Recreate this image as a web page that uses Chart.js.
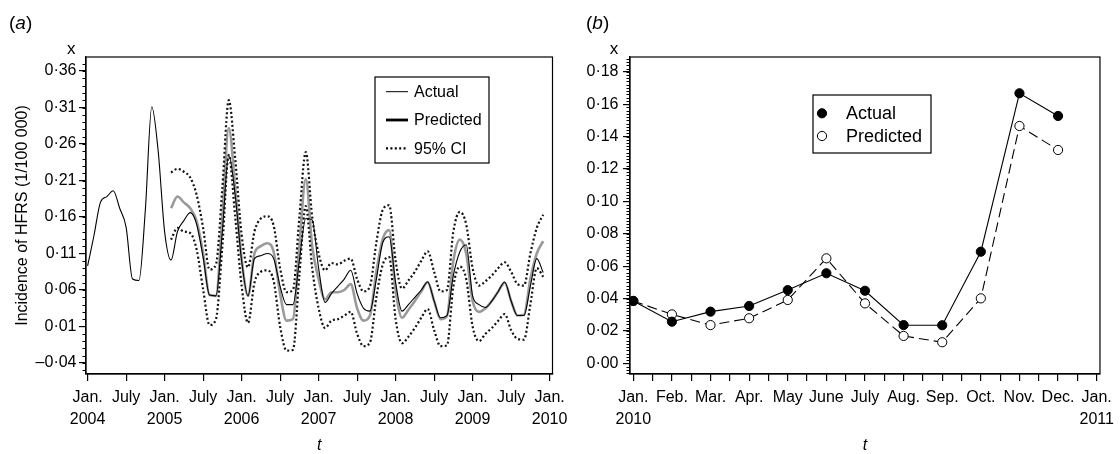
<!DOCTYPE html>
<html><head><meta charset="utf-8">
<script src="https://cdn.jsdelivr.net/npm/chart.js@4.4.1/dist/chart.umd.min.js"></script>
<style>
html,body{margin:0;padding:0;background:#fff;}
body{width:1120px;height:454px;position:relative;overflow:hidden;}
canvas{position:absolute;top:0;}
#ca{left:0;} #cb{left:580px;}
</style></head><body>
<canvas id="ca" width="580" height="454"></canvas>
<canvas id="cb" width="540" height="454"></canvas>
<script>
// ---------- Panel (a): monthly incidence, Jan 2004 (index 0) .. Dec 2009 (index 71)
const actualA = [
  0.093, 0.135, 0.180, 0.188, 0.196, 0.172, 0.146, 0.075, 0.073, 0.170, 0.311, 0.250,
  0.140, 0.101, 0.140, 0.155, 0.166, 0.150, 0.105, 0.053, 0.052, 0.140, 0.245, 0.190,
  0.100, 0.052, 0.103, 0.107, 0.110, 0.103, 0.065, 0.040, 0.040, 0.100, 0.158, 0.156,
  0.090, 0.043, 0.055, 0.065, 0.075, 0.087, 0.055, 0.035, 0.031, 0.075, 0.125, 0.133,
  0.070, 0.031, 0.040, 0.050, 0.060, 0.071, 0.045, 0.022, 0.025, 0.080, 0.112, 0.122,
  0.052, 0.040, 0.036, 0.045, 0.058, 0.071, 0.045, 0.025, 0.025, 0.065, 0.103, 0.084
];
const predStartA = 13; // Feb 2005
const predictedA = [
  0.172, 0.188, 0.180, 0.172, 0.154, 0.110, 0.053, 0.052, 0.160, 0.282, 0.200,
  0.103, 0.052, 0.110, 0.120, 0.124, 0.112, 0.055, 0.018, 0.020, 0.120, 0.212, 0.120,
  0.075, 0.047, 0.057, 0.057, 0.060, 0.068, 0.035, 0.018, 0.025, 0.085, 0.130, 0.142,
  0.060, 0.022, 0.033, 0.045, 0.058, 0.071, 0.045, 0.020, 0.024, 0.100, 0.129, 0.110,
  0.045, 0.030, 0.035, 0.045, 0.058, 0.070, 0.045, 0.025, 0.026, 0.075, 0.110, 0.127
];
const ciUpperA = [
  0.221, 0.226, 0.222, 0.214, 0.190, 0.145, 0.088, 0.095, 0.200, 0.320, 0.240,
  0.136, 0.091, 0.140, 0.158, 0.161, 0.148, 0.090, 0.057, 0.060, 0.160, 0.249, 0.160,
  0.110, 0.087, 0.097, 0.095, 0.100, 0.103, 0.075, 0.058, 0.065, 0.125, 0.170, 0.176,
  0.100, 0.062, 0.073, 0.085, 0.100, 0.113, 0.085, 0.058, 0.060, 0.140, 0.167, 0.150,
  0.090, 0.066, 0.072, 0.080, 0.090, 0.098, 0.085, 0.068, 0.066, 0.110, 0.145, 0.163
];
const ciLowerA = [
  0.129, 0.145, 0.140, 0.138, 0.115, 0.061, 0.012, 0.020, 0.120, 0.245, 0.160,
  0.066, 0.015, 0.070, 0.085, 0.087, 0.072, 0.010, -0.023, -0.022, 0.080, 0.175, 0.090,
  0.035, 0.008, 0.018, 0.020, 0.025, 0.030, 0.000, -0.017, -0.012, 0.050, 0.095, 0.105,
  0.020, -0.013, -0.004, 0.008, 0.022, 0.034, 0.005, -0.017, -0.016, 0.065, 0.092, 0.075,
  0.010, -0.010, 0.000, 0.008, 0.018, 0.027, 0.005, -0.007, -0.008, 0.040, 0.090, 0.078
];
const xTickValsA = [0, 6, 12, 18, 24, 30, 36, 42, 48, 54, 60, 66, 72];
const xTickLabelsA = [['Jan.','2004'],'July',['Jan.','2005'],'July',['Jan.','2006'],'July',
  ['Jan.','2007'],'July',['Jan.','2008'],'July',['Jan.','2009'],'July',['Jan.','2010']];
const yTickValsA = [-0.04, 0.01, 0.06, 0.11, 0.16, 0.21, 0.26, 0.31, 0.36];

// ---------- Panel (b): Jan..Dec 2010
const monthLabelsB = [['Jan.','2010'],'Feb.','Mar.','Apr.','May','June','July','Aug.','Sep.','Oct.','Nov.','Dec.',['Jan.','2011']];
const actualB =    [0.0385, 0.0257, 0.0319, 0.0354, 0.0452, 0.0556, 0.0448, 0.0236, 0.0235, 0.0689, 0.1667, 0.1527];
const predictedB = [0.0385, 0.0302, 0.0236, 0.0278, 0.0391, 0.0648, 0.0370, 0.0169, 0.0130, 0.0401, 0.1465, 0.1317];
const yTickValsB = [0.00, 0.02, 0.04, 0.06, 0.08, 0.10, 0.12, 0.14, 0.16, 0.18];

// ---------- helpers
const FONT = '"Liberation Sans", Arial, Helvetica, sans-serif';
Chart.defaults.font.family = FONT;
Chart.defaults.color = '#000';
const toPts = (arr, start) => arr.map((v, i) => ({x: start + i, y: v}));
const fmt = v => (v < -1e-9 ? '\u2013' : '') + Math.abs(v).toFixed(2).replace('.', '\u00b7');

const decor = {
  id: 'decor',
  afterDraw(chart, args, o) {
    const ctx = chart.ctx, a = chart.chartArea, ys = chart.scales.y;
    ctx.save();
    // frame
    ctx.strokeStyle = '#000'; ctx.lineWidth = 1.2;
    ctx.strokeRect(a.left, a.top, a.right - a.left, a.bottom - a.top);
    // minor y ticks
    ctx.lineWidth = 1;
    ctx.beginPath();
    const k0 = Math.ceil(ys.min / o.minorY - 1e-6), k1 = Math.floor(ys.max / o.minorY + 1e-6);
    for (let k = k0; k <= k1; k++) {
      const py = Math.round(ys.getPixelForValue(k * o.minorY)) + 0.5;
      ctx.moveTo(a.left - o.minorLen, py); ctx.lineTo(a.left, py);
    }
    ctx.stroke();
    // texts
    ctx.fillStyle = '#000'; ctx.textBaseline = 'alphabetic'; ctx.textAlign = 'left';
    (o.texts || []).forEach(t => {
      let x = t.x;
      t.runs.forEach(r => {
        ctx.font = r.f + ' ' + FONT;
        if (t.center) { ctx.textAlign = 'center'; ctx.fillText(r.t, x, t.y); ctx.textAlign = 'left'; }
        else { ctx.fillText(r.t, x, t.y); x += ctx.measureText(r.t).width; }
      });
    });
    // legend
    const L = o.legend;
    if (L) {
      ctx.fillStyle = '#fff'; ctx.fillRect(L.x, L.y, L.w, L.h);
      ctx.strokeStyle = '#000'; ctx.lineWidth = 1.2; ctx.strokeRect(L.x, L.y, L.w, L.h);
      ctx.font = L.font + ' ' + FONT; ctx.textBaseline = 'middle';
      L.rows.forEach(r => {
        ctx.save();
        if (r.kind === 'line') {
          ctx.strokeStyle = r.color; ctx.lineWidth = r.width; ctx.setLineDash(r.dash || []);
          ctx.beginPath(); ctx.moveTo(L.sx0, r.y); ctx.lineTo(L.sx1, r.y); ctx.stroke();
        } else {
          ctx.beginPath(); ctx.arc(L.mx, r.y, r.r, 0, Math.PI * 2);
          ctx.fillStyle = r.fill; ctx.fill();
          ctx.strokeStyle = '#000'; ctx.lineWidth = 1; ctx.stroke();
        }
        ctx.restore();
        ctx.fillStyle = '#000'; ctx.fillText(r.label, L.tx, r.y + 1);
      });
    }
    ctx.restore();
  }
};

// ---------- Chart (a)
new Chart(document.getElementById('ca'), {
  type: 'line',
  data: {
    datasets: [
      {label: '95% CI', data: toPts(ciUpperA, predStartA), borderColor: '#111', borderWidth: 2.2, borderDash: [2, 2.4]},
      {label: '95% CI lower', data: toPts(ciLowerA, predStartA), borderColor: '#111', borderWidth: 2.2, borderDash: [2, 2.4]},
      {label: 'Actual', data: toPts(actualA, 0), borderColor: '#000', borderWidth: 1.1},
      {label: 'Predicted', data: toPts(predictedA, predStartA), borderColor: '#9a9a9a', borderWidth: 2.6}
    ]
  },
  plugins: [decor],
  options: {
    responsive: false, animation: false, devicePixelRatio: 1,
    layout: {padding: {left: 0, right: 27.5, top: 57, bottom: 0}},
    elements: {point: {radius: 0}, line: {cubicInterpolationMode: 'monotone', fill: false}},
    plugins: {
      legend: {display: false}, tooltip: {enabled: false},
      decor: {
        minorY: 0.01, minorLen: 3.5,
        texts: [
          {x: 9, y: 29, runs: [{t: '(', f: '19px'}, {t: 'a', f: 'italic 19px'}, {t: ')', f: '19px'}]},
          {x: 71.3, y: 54, center: true, runs: [{t: 'x', f: '17px'}]}
        ],
        legend: {x: 375, y: 77, w: 114, h: 86, font: '16px', sx0: 386, sx1: 408, tx: 414,
          rows: [
            {label: 'Actual', y: 91.7, kind: 'line', color: '#000', width: 1},
            {label: 'Predicted', y: 120, kind: 'line', color: '#000', width: 2.8},
            {label: '95% CI', y: 148.3, kind: 'line', color: '#000', width: 2.2, dash: [2, 2.4]}
          ]}
      }
    },
    scales: {
      x: {
        type: 'linear', min: -0.25, max: 72.45,
        afterBuildTicks: s => { s.ticks = xTickValsA.map(v => ({value: v})); },
        afterFit: s => { s.height = 80; },
        ticks: {autoSkip: false, maxRotation: 0, padding: 6, color: '#000',
          font: {size: 16, lineHeight: 1.375}, callback: (v, i) => xTickLabelsA[i]},
        grid: {drawOnChartArea: false, drawTicks: true, tickLength: 7, color: '#000', lineWidth: 1.2},
        border: {display: true, color: '#000', width: 1.2},
        title: {display: true, text: 't', color: '#000', font: {size: 16, style: 'italic', lineHeight: 1}, padding: {top: 0, bottom: 0}}
      },
      y: {
        type: 'linear', min: -0.0551, max: 0.3792,
        afterBuildTicks: s => { s.ticks = yTickValsA.map(v => ({value: v})); },
        afterFit: s => { s.width = 86; },
        ticks: {autoSkip: false, padding: 2.5, color: '#000', font: {size: 16}, callback: v => fmt(v)},
        grid: {drawOnChartArea: false, drawTicks: true, tickLength: 7, color: '#000', lineWidth: 1.2},
        border: {display: true, color: '#000', width: 1.2},
        title: {display: true, text: 'Incidence of HFRS (1/100 000)', color: '#000', font: {size: 16}, padding: {top: 13, bottom: 0}}
      }
    }
  }
});

// ---------- Chart (b)
const halfTicksB = [];
for (let i = 0; i <= (monthLabelsB.length - 1) * 2; i++) halfTicksB.push(i / 2);
new Chart(document.getElementById('cb'), {
  type: 'line',
  data: {
    datasets: [
      {label: 'Actual', data: toPts(actualB, 0), borderColor: '#000', borderWidth: 1.1,
        pointRadius: 4.6, pointBackgroundColor: '#000', pointBorderColor: '#000', pointBorderWidth: 1},
      {label: 'Predicted', data: toPts(predictedB, 0), borderColor: '#000', borderWidth: 1.1, borderDash: [10, 5],
        pointRadius: 4.6, pointBackgroundColor: '#fff', pointBorderColor: '#000', pointBorderWidth: 1}
    ]
  },
  plugins: [decor],
  options: {
    responsive: false, animation: false, devicePixelRatio: 1,
    layout: {padding: {left: 0, right: 15.7, top: 57, bottom: 0}},
    elements: {line: {tension: 0, fill: false}},
    plugins: {
      legend: {display: false}, tooltip: {enabled: false},
      decor: {
        minorY: 0.002, minorLen: 3.5,
        texts: [
          {x: 6, y: 29, runs: [{t: '(', f: '19px'}, {t: 'b', f: 'italic 19px'}, {t: ')', f: '19px'}]},
          {x: 34, y: 53.5, center: true, runs: [{t: 'x', f: '17px'}]}
        ],
        legend: {x: 233, y: 95, w: 118, h: 58, font: '18px', mx: 242, tx: 266,
          rows: [
            {label: 'Actual', y: 113.3, kind: 'marker', fill: '#000', r: 4.6},
            {label: 'Predicted', y: 136, kind: 'marker', fill: '#fff', r: 4.6}
          ]}
      }
    },
    scales: {
      x: {
        type: 'linear', min: -0.085, max: 12.085,
        afterBuildTicks: s => { s.ticks = halfTicksB.map(v => ({value: v})); },
        afterFit: s => { s.height = 80; },
        ticks: {autoSkip: false, maxRotation: 0, padding: 6, color: '#000',
          font: {size: 16, lineHeight: 1.375},
          callback: v => (Number.isInteger(v) ? monthLabelsB[v] : '')},
        grid: {drawOnChartArea: false, drawTicks: true, tickLength: 7, color: '#000', lineWidth: 1.2},
        border: {display: true, color: '#000', width: 1.2},
        title: {display: true, text: 't', color: '#000', font: {size: 16, style: 'italic', lineHeight: 1}, padding: {top: 0, bottom: 0}}
      },
      y: {
        type: 'linear', min: -0.0066, max: 0.1891,
        afterBuildTicks: s => { s.ticks = yTickValsB.map(v => ({value: v})); },
        afterFit: s => { s.width = 50; },
        ticks: {autoSkip: false, padding: 4.5, color: '#000', font: {size: 16}, callback: v => fmt(v)},
        grid: {drawOnChartArea: false, drawTicks: true, tickLength: 7, color: '#000', lineWidth: 1.2},
        border: {display: true, color: '#000', width: 1.2}
      }
    }
  }
});
</script></body></html>
